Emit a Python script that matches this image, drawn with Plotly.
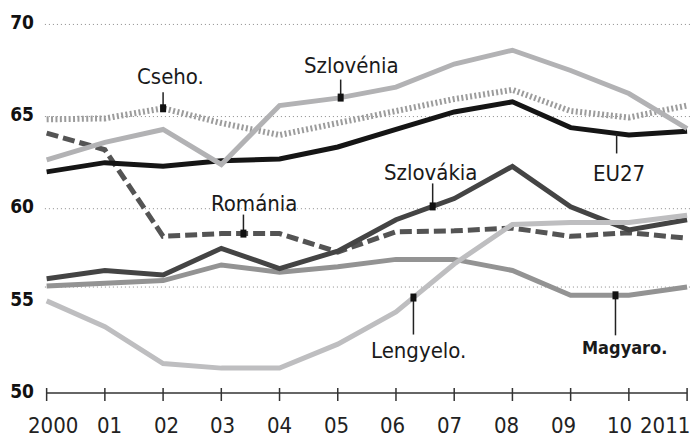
import numpy as np
import plotly.graph_objects as go

# ---- data ----
years = [2000, 2001, 2002, 2003, 2004, 2005, 2006, 2007, 2008, 2009, 2010, 2011]
year_labels = ["2000", "01", "02", "03", "04", "05", "06", "07", "08", "09", "10", "2011"]

eu27 = [62.0, 62.5, 62.3, 62.6, 62.7, 63.35, 64.3, 65.25, 65.8, 64.4, 64.0, 64.2]
szlovenia = [62.65, 63.6, 64.3, 62.4, 65.6, 66.0, 66.6, 67.85, 68.6, 67.5, 66.25, 64.35]
cseho = [64.85, 64.9, 65.45, 64.65, 64.0, 64.65, 65.25, 65.95, 66.45, 65.3, 64.95, 65.6]
romania = [64.1, 63.2, 58.5, 58.65, 58.65, 57.65, 58.75, 58.8, 58.95, 58.5, 58.7, 58.4]
szlovakia = [56.2, 56.65, 56.4, 57.85, 56.75, 57.7, 59.4, 60.55, 62.3, 60.1, 58.85, 59.4]
magyaro = [55.8, 55.95, 56.1, 56.95, 56.55, 56.85, 57.25, 57.25, 56.65, 55.3, 55.3, 55.75]
lengyelo = [55.0, 53.6, 51.6, 51.35, 51.35, 52.65, 54.4, 57.0, 59.15, 59.25, 59.25, 59.65]

y_ticks = [50, 55, 60, 65, 70]
grid_levels = [55.75, 60, 65, 70]

FONT = "DejaVu Sans Condensed, Roboto Condensed, sans-serif"
TXT = "#222222"

series = {
    "Magyaro.": dict(y=magyaro, color="#939393", width=5, dash="solid"),
    "Románia": dict(y=romania, color="#545454", width=5, dash="12px,5px"),
    "Szlovákia": dict(y=szlovakia, color="#444444", width=5, dash="solid"),
    "Cseho.": dict(y=cseho, color="#9c9c9c", width=6, dash="2px,2.4px"),
    "EU27": dict(y=eu27, color="#151515", width=5, dash="solid"),
    "Szlovénia": dict(y=szlovenia, color="#b2b2b4", width=5, dash="solid"),
    "Lengyelo.": dict(y=lengyelo, color="#bebec0", width=5, dash="solid"),
}

# label callouts: (series, anchor x, leader length px (+up), marker?, text dx, text dy, bold)
callouts = [
    ("Cseho.", 2002.0, 16, True, 7, 32, False),
    ("Szlovénia", 2005.05, 18, True, 11, 32, False),
    ("Románia", 2003.38, 19, True, 11, 30, False),
    ("Szlovákia", 2006.63, 23, True, -2, 34, False),
    ("EU27", 2009.79, -20, False, 2, -40, False),
    ("Lengyelo.", 2006.3, -37, True, 5, -53, False),
    ("Magyaro.", 2009.77, -40, True, 9, -52, True),
]

fig = go.Figure()
for name, s in series.items():
    fig.add_trace(go.Scatter(
        x=years, y=s["y"], mode="lines", name=name,
        line=dict(color=s["color"], width=s["width"], dash=s["dash"]),
        hoverinfo="skip", showlegend=False,
    ))

shapes = []
for g in grid_levels:
    shapes.append(dict(type="line", xref="x", yref="y", x0=years[0] - 0.03, x1=years[-1] + 0.05,
                       y0=g, y1=g, line=dict(color="#8a8a8a", width=1, dash="1px,3px"), layer="below"))
shapes.append(dict(type="line", xref="x", yref="paper", x0=years[0], x1=years[-1], y0=0, y1=0,
                   line=dict(color="#333333", width=1.5)))
for yr in years:
    shapes.append(dict(type="line", xref="x", yref="paper", x0=yr, x1=yr,
                       y0=-8 / 387, y1=5 / 387, line=dict(color="#333333", width=1.5)))

annotations = []
for name, ax_x, leader, has_marker, dx, dy, bold in callouts:
    yv = float(np.interp(ax_x, years, series[name]["y"]))
    shapes.append(dict(type="line", xref="x", yref="y", xsizemode="scaled", ysizemode="pixel",
                       yanchor=yv, x0=ax_x, x1=ax_x, y0=0, y1=leader,
                       line=dict(color="#222222", width=1.5)))
    if has_marker:
        shapes.append(dict(type="rect", xref="x", yref="y", xsizemode="pixel", ysizemode="pixel",
                           xanchor=ax_x, yanchor=yv, x0=-3, x1=3, y0=-4, y1=4,
                           fillcolor="#111111", line=dict(width=0)))
    annotations.append(dict(
        x=ax_x, y=yv, xref="x", yref="y", text=name, showarrow=False,
        xanchor="center", yanchor="middle", xshift=dx, yshift=dy,
        font=dict(family=FONT, size=18 if bold else 22, color="#1a1a1a",
                  weight="bold" if bold else "normal"),
    ))

for i, (yr, lab) in enumerate(zip(years, year_labels)):
    last = i == len(years) - 1
    annotations.append(dict(
        x=yr, y=0, xref="x", yref="paper", text=lab, showarrow=False,
        xanchor="right" if last else "center", yanchor="middle",
        xshift=5 if last else 6 - 1.5 * i, yshift=-32,
        font=dict(family=FONT, size=22, color=TXT),
    ))

fig.update_layout(
    width=694, height=439,
    margin=dict(l=35, r=3.5, t=6, b=46),
    paper_bgcolor="white", plot_bgcolor="white",
    template="none",
    shapes=shapes, annotations=annotations,
    xaxis=dict(range=[1999.8, 2011.05], showgrid=False, zeroline=False, showline=False,
               showticklabels=False, ticks="", fixedrange=True),
    yaxis=dict(range=[50, 71], tickvals=y_ticks, ticktext=[str(v) for v in y_ticks],
               showgrid=False, zeroline=False, showline=False, ticks="",
               ticklabelshift=-2, fixedrange=True,
               tickfont=dict(family=FONT, size=19, color="#111111", weight="bold")),
)

fig.write_html("out.html", config={"displayModeBar": False, "staticPlot": True},
               post_script="document.body.style.margin='0';document.body.style.padding='0';")
